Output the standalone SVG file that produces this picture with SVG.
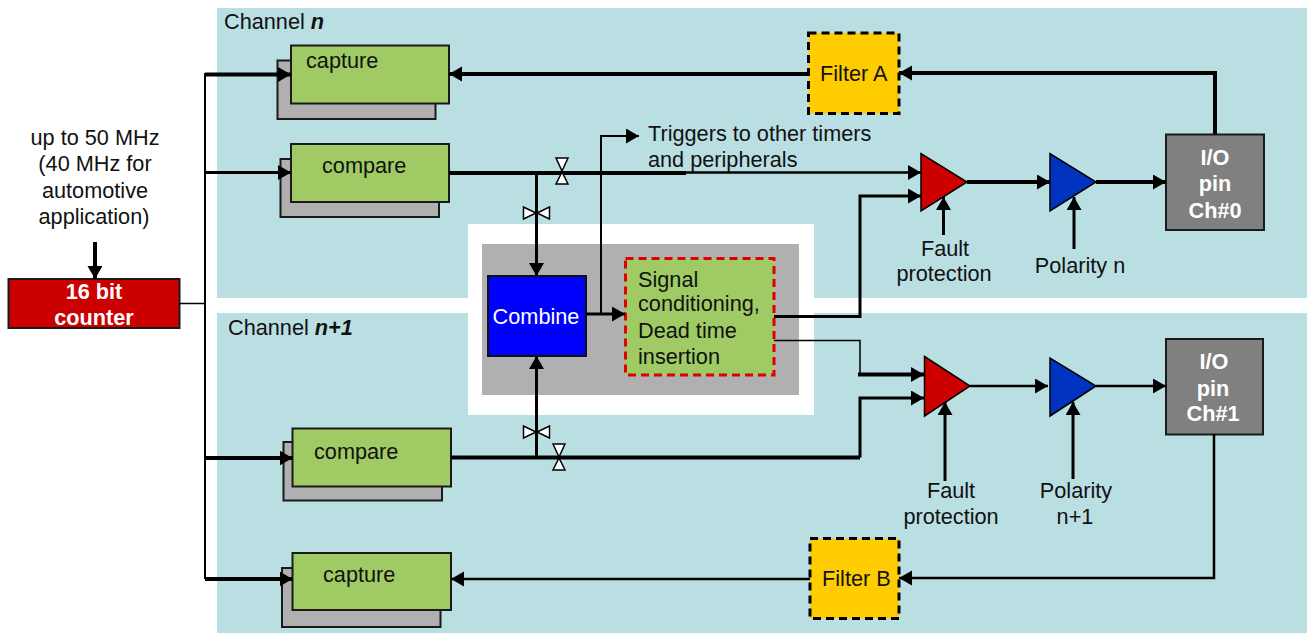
<svg xmlns="http://www.w3.org/2000/svg" width="1307" height="633" viewBox="0 0 1307 633">
<defs>
<marker id="a" markerUnits="userSpaceOnUse" markerWidth="15" markerHeight="16" refX="13" refY="7.500" orient="auto"><path d="M0 0L13 7.500L0 15Z" fill="#000"/></marker>
</defs>
<style>
text{font-family:"Liberation Sans",Arial,sans-serif;font-size:21.7px;fill:#111}
.m{text-anchor:middle}
.w{fill:#fff}
.b{font-weight:bold}
.g{fill:#a0cb64;stroke:#1a1a1a;stroke-width:2}
.s{fill:#b0b0b0;stroke:#1a1a1a;stroke-width:2}
.io{fill:#808080;stroke:#1a1a1a;stroke-width:2}
.f{fill:#ffcc00;stroke:#000;stroke-width:3;stroke-dasharray:8 5}
.c path{fill:none;stroke:#000}
.t1{stroke-width:1.500}
.t2{stroke-width:2}
.t25{stroke-width:2.500}
.t3{stroke-width:3}
.t4{stroke-width:4}
.tri{stroke:#000;stroke-width:1.500}
.c path.v{fill:#fff;stroke:#000;stroke-width:1.500}
</style>
<rect width="1307" height="633" fill="#fff"/>
<g id="panels">
<rect x="217" y="8" width="1090" height="290" fill="#b9dfe3"/>
<rect x="217" y="313" width="1090" height="320" fill="#b9dfe3"/>
<rect x="468" y="224" width="346" height="191" fill="#fff"/>
<rect x="482" y="244" width="317" height="151" fill="#b0b0b0"/>
<text x="224" y="29">Channel <tspan font-weight="bold" font-style="italic">n</tspan></text>
<text x="228" y="335">Channel <tspan font-weight="bold" font-style="italic">n+1</tspan></text>
</g>
<g id="capture-n"><rect class="s" x="277.500" y="60.500" width="158" height="58.500"/><rect class="g" x="291" y="45.500" width="158" height="58"/><text x="306" y="68">capture</text></g>
<g id="compare-n"><rect class="s" x="280.500" y="159" width="158.500" height="58"/><rect class="g" x="291" y="144" width="158" height="58"/><text x="322" y="173">compare</text></g>
<g id="compare-n1"><rect class="s" x="283.500" y="442" width="158.500" height="58.500"/><rect class="g" x="292.500" y="428.500" width="158.500" height="58"/><text x="314" y="459">compare</text></g>
<g id="capture-n1"><rect class="s" x="282" y="568" width="158.500" height="59"/><rect class="g" x="292.500" y="553" width="158.500" height="57"/><text x="323" y="582">capture</text></g>
<g id="filter-a"><rect class="f" x="808.500" y="33" width="90.500" height="80.500"/><text x="820" y="81">Filter A</text></g>
<g id="filter-b"><rect class="f" x="810" y="538.500" width="89" height="80"/><text x="822" y="586">Filter B</text></g>
<g id="counter"><rect x="8.500" y="279" width="171" height="49" fill="#cc0000" stroke="#1a1a1a" stroke-width="2"/><text class="m w b" x="94" y="299">16 bit</text><text class="m w b" x="94" y="325">counter</text></g>
<g id="clock-label"><text class="m" x="95" y="145">up to 50 MHz</text><text class="m" x="95" y="171">(40 MHz for</text><text class="m" x="95" y="198">automotive</text><text class="m" x="94" y="224">application)</text></g>
<g id="combine"><rect x="488" y="276" width="98" height="80" fill="#0000ff" stroke="#111" stroke-width="2"/><text class="m w" x="536" y="324">Combine</text></g>
<g id="signal"><rect x="625.500" y="258.500" width="148.500" height="116.500" fill="#a0cb64" stroke="#e00000" stroke-width="3" stroke-dasharray="8 5"/><text x="638" y="287">Signal</text><text x="638" y="311">conditioning,</text><text x="638" y="338">Dead time</text><text x="638" y="364">insertion</text></g>
<g id="amp-red-n"><path class="tri" d="M921 153.500L921 211L967 182Z" fill="#cc0000"/></g>
<g id="amp-blue-n"><path class="tri" d="M1050 153.500L1050 211L1096 182Z" fill="#0033c0"/></g>
<g id="amp-red-n1"><path class="tri" d="M924.500 356.500L924.500 416L970 386Z" fill="#cc0000"/></g>
<g id="amp-blue-n1"><path class="tri" d="M1050 358L1050 416L1096 386Z" fill="#0033c0"/></g>
<g id="io0"><rect class="io" x="1166" y="134.500" width="98" height="95.500"/><text class="m w b" x="1215" y="165">I/O</text><text class="m w b" x="1215" y="191">pin</text><text class="m w b" x="1215" y="218">Ch#0</text></g>
<g id="io1"><rect class="io" x="1166" y="339" width="97" height="95.500"/><text class="m w b" x="1214" y="369">I/O</text><text class="m w b" x="1213" y="396">pin</text><text class="m w b" x="1213" y="421">Ch#1</text></g>
<g id="labels">
<text x="648" y="141">Triggers to other timers</text><text x="648" y="167">and peripherals</text>
<text class="m" x="945" y="256">Fault</text><text class="m" x="944" y="281">protection</text>
<text class="m" x="1080" y="273">Polarity n</text>
<text class="m" x="951" y="498">Fault</text><text class="m" x="951" y="524">protection</text>
<text class="m" x="1076" y="498">Polarity</text><text class="m" x="1075" y="524">n+1</text>
</g>
<g id="connectors" class="c">
<path class="t4" d="M95 242V279" marker-end="url(#a)"/>
<path class="t1" d="M179 303.500H205"/>
<path class="t2" d="M205 73V579"/>
<path class="t4" d="M205 74.500H291" marker-end="url(#a)"/>
<path class="t3" d="M205 172.500H291" marker-end="url(#a)"/>
<path class="t4" d="M205 458H292.500" marker-end="url(#a)"/>
<path class="t4" d="M205 579H292.500" marker-end="url(#a)"/>
<path class="t4" d="M808 74H449" marker-end="url(#a)"/>
<path class="t4" d="M449 173H686"/>
<path class="t25" d="M686 172.500H921" marker-end="url(#a)"/>
<path class="t3" d="M536.500 173V276" marker-end="url(#a)"/>
<path class="t3" d="M536.500 458V356" marker-end="url(#a)"/>
<path class="t4" d="M451 457.500H860"/>
<path class="t3" d="M586 314H625" marker-end="url(#a)"/>
<path class="t2" d="M601 314V136H639" marker-end="url(#a)"/>
<path class="t3" d="M774 316.500H860V196H921" marker-end="url(#a)"/>
<path class="t3" d="M860 457.500V398H924" marker-end="url(#a)"/>
<path class="t1" d="M774 340.500H860V374"/>
<path class="t4" d="M858 374.500H924" marker-end="url(#a)"/>
<path class="t4" d="M967 182H1050" marker-end="url(#a)"/>
<path class="t4" d="M1096 182H1166" marker-end="url(#a)"/>
<path class="t25" d="M970 386H1048" marker-end="url(#a)"/>
<path class="t25" d="M1096 386H1166" marker-end="url(#a)"/>
<path class="t3" d="M943.500 235V197" marker-end="url(#a)"/>
<path class="t3" d="M1074 249V197" marker-end="url(#a)"/>
<path class="t3" d="M945 481V402" marker-end="url(#a)"/>
<path class="t3" d="M1073 479V402" marker-end="url(#a)"/>
<path class="t4" d="M1215 134V73H899" marker-end="url(#a)"/>
<path class="t25" d="M1214 434V578H899" marker-end="url(#a)"/>
<path class="t25" d="M810 579H451" marker-end="url(#a)"/>
<path class="v" d="M556 158H568L562 171Z M556 184H568L562 172Z"/>
<path class="v" d="M523.500 207V219L536 213Z M549.500 207V219L537 213Z"/>
<path class="v" d="M553 444H565L559 457Z M553 470H565L559 458Z"/>
<path class="v" d="M523.500 426V438L536 432Z M549.500 426V438L537 432Z"/>
</g>
</svg>
